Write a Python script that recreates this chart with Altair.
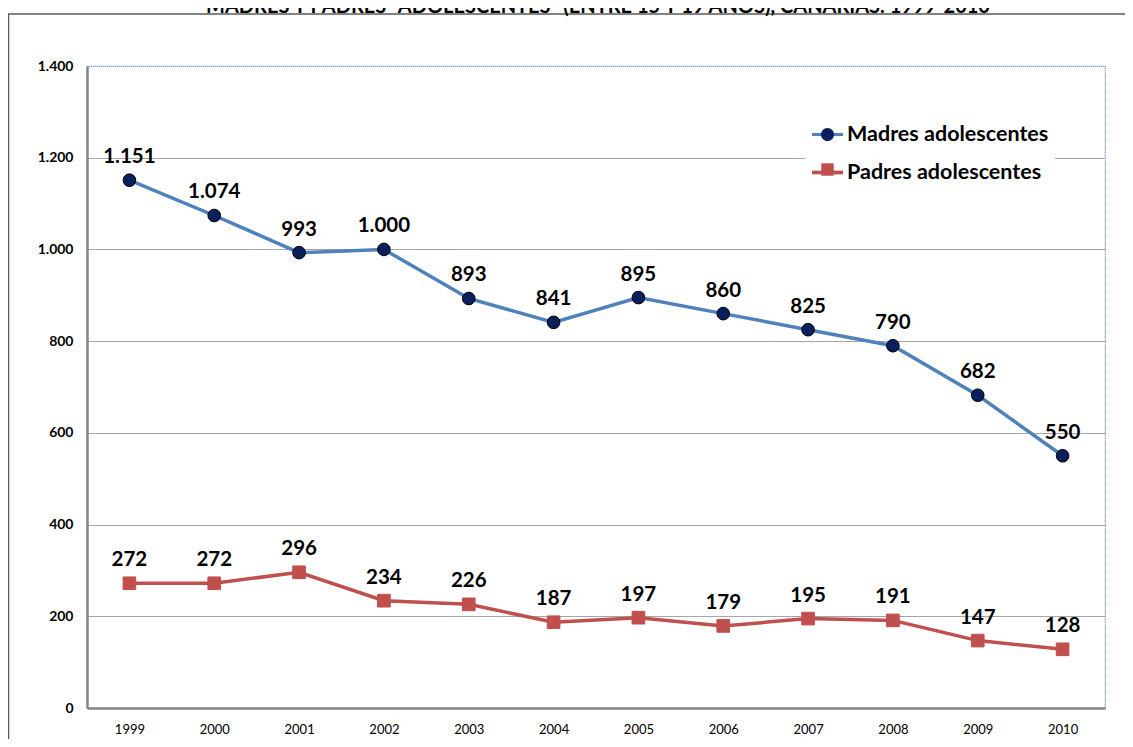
import altair as alt
import pandas as pd

years = ["1999", "2000", "2001", "2002", "2003", "2004", "2005", "2006", "2007", "2008", "2009", "2010"]
madres = [1151, 1074, 993, 1000, 893, 841, 895, 860, 825, 790, 682, 550]
padres = [272, 272, 296, 234, 226, 187, 197, 179, 195, 191, 147, 128]
series_names = ["Madres adolescentes", "Padres adolescentes"]
line_colors = ["#4F81BD", "#C0504D"]
marker_fills = ["#0B1F5C", "#C0504D"]
marker_shapes = ["circle", "square"]
y_ticks = [0, 200, 400, 600, 800, 1000, 1200, 1400]
title_text = 'MADRES Y PADRES "ADOLESCENTES" (ENTRE 15 Y 19 AÑOS), CANARIAS. 1999-2010'

# legend glyph paths (unit box -1..1): line segment, and marker shapes
legend_line_paths = ["M-1,-0.1H1V0.1H-1Z", "M-1,-0.12H1V0.12H-1Z"]
legend_marker_paths = ["M0.42,0A0.42,0.42,0,1,1,-0.42,0A0.42,0.42,0,1,1,0.42,0Z",
                       "M-0.4,-0.4H0.4V0.4H-0.4Z"]

rows = []
for i, yr in enumerate(years):
    rows.append({"Año": yr, "Serie": series_names[0], "Valor": madres[i]})
    rows.append({"Año": yr, "Serie": series_names[1], "Valor": padres[i]})
df = pd.DataFrame(rows)

FONT = "Lato"

x_enc = alt.X("Año:N", scale=alt.Scale(type="point", padding=0.5), sort=years,
              axis=alt.Axis(title=None, ticks=False, labelAngle=0, labelFont=FONT,
                            labelFontSize=13, labelColor="#000", labelPadding=15,
                            domainColor="#868686", domainWidth=2.5, grid=False))
y_enc = alt.Y("Valor:Q", scale=alt.Scale(domain=[0, 1400], nice=False),
              axis=alt.Axis(title=None, values=y_ticks, ticks=False, labelFont=FONT,
                            labelFontSize=14, labelFontWeight="bold", labelColor="#000",
                            labelPadding=14, domainColor="#868686", domainWidth=2.5,
                            labelExpr="replace(datum.label, ',', '.')",
                            grid=True, gridColor={"condition": {"test": "datum.value == 1400 || datum.value == 0", "value": "transparent"}, "value": "#A6A6A6"},
                            gridWidth=1.2))

base = alt.Chart(df)

legend_bg = alt.Chart(alt.Data(values=[{}])).mark_rect(fill="white", stroke=None).encode(
    x=alt.value(718), x2=alt.value(968), y=alt.value(49), y2=alt.value(121))

lines = base.mark_line(strokeWidth=3.5).encode(
    x=x_enc, y=y_enc,
    stroke=alt.Stroke("Serie:N", scale=alt.Scale(domain=series_names, range=line_colors), legend=None))

points = base.mark_point(filled=True, size=160, opacity=1).encode(
    x=x_enc, y=y_enc,
    fill=alt.Fill("Serie:N", scale=alt.Scale(domain=series_names, range=marker_fills), legend=None),
    shape=alt.Shape("Serie:N", scale=alt.Scale(domain=series_names, range=marker_shapes), legend=None),
    stroke=alt.condition("datum.Serie == 'Madres adolescentes'", alt.value("#000000"), alt.value("#C0504D")),
    strokeWidth=alt.value(1))

labels = base.transform_calculate(lbl="replace(format(datum.Valor, ','), ',', '.')").mark_text(
    font=FONT, fontSize=20.5, fontWeight="bold", color="#000", dy=-23, baseline="middle").encode(
    x=x_enc, y=y_enc, text="lbl:N")

LEG_X, LEG_Y, LEG_SIZE, LEG_ROWPAD = 725, 53, 961, 12

leg_line_names = [s + " " for s in series_names]
legend_lines = base.transform_filter("false").transform_calculate(SerieL="datum.Serie + ' '").mark_point(
    filled=True, opacity=1).encode(
    x=x_enc, y=y_enc,
    fill=alt.Fill("SerieL:N", scale=alt.Scale(domain=leg_line_names, range=line_colors),
                  legend=alt.Legend(title=None, orient="none", legendX=LEG_X, legendY=LEG_Y,
                                    symbolSize=LEG_SIZE, symbolStrokeWidth=0, symbolOpacity=1,
                                    labelFont=FONT, labelFontSize=21.5, labelFontWeight="bold",
                                    labelColor="#000", labelOffset=4, rowPadding=LEG_ROWPAD,
                                    padding=0, labelLimit=400,
                                    labelExpr="trim(datum.label)")),
    shape=alt.Shape("SerieL:N", scale=alt.Scale(domain=leg_line_names, range=legend_line_paths)))

leg_mark_names = [s + "  " for s in series_names]
legend_marks = base.transform_filter("false").transform_calculate(SerieM="datum.Serie + '  '").mark_point(
    filled=True, opacity=1).encode(
    x=x_enc, y=y_enc,
    fill=alt.Fill("SerieM:N", scale=alt.Scale(domain=leg_mark_names, range=marker_fills),
                  legend=alt.Legend(title=None, orient="none", legendX=LEG_X, legendY=LEG_Y,
                                    symbolSize=LEG_SIZE, symbolStrokeWidth=0, symbolOpacity=1,
                                    labelFontSize=10, labelOffset=0, rowPadding=LEG_ROWPAD,
                                    padding=0, labelExpr="''")),
    shape=alt.Shape("SerieM:N", scale=alt.Scale(domain=leg_mark_names, range=legend_marker_paths)))

frame = alt.Chart(alt.Data(values=[{}])).mark_rect(fill=None, stroke="#595959", strokeWidth=1.5).encode(
    x=alt.value(-78.5), x2=alt.value(1060), y=alt.value(-52), y2=alt.value(700))

title = alt.Chart(alt.Data(values=[{}])).mark_text(
    font=FONT, fontSize=20, fontWeight="bold", color="#000", baseline="alphabetic", align="center").encode(
    x=alt.value(511), y=alt.value(-53.5), text=alt.value(title_text))

chart = alt.layer(frame, title, legend_bg, lines, points, labels, legend_lines, legend_marks).resolve_scale(
    fill="independent", shape="independent"
).resolve_legend(fill="independent", shape="independent").properties(
    width=1018, height=642,
    padding={"left": 79, "top": 58, "right": 20, "bottom": 31},
    autosize=alt.AutoSizeParams(type="none"),
    background="white",
).configure_view(stroke="#4F81BD", strokeDash=[1, 1], strokeWidth=1.2)

chart.save("out.html", embed_options={"renderer": "svg", "actions": False})
